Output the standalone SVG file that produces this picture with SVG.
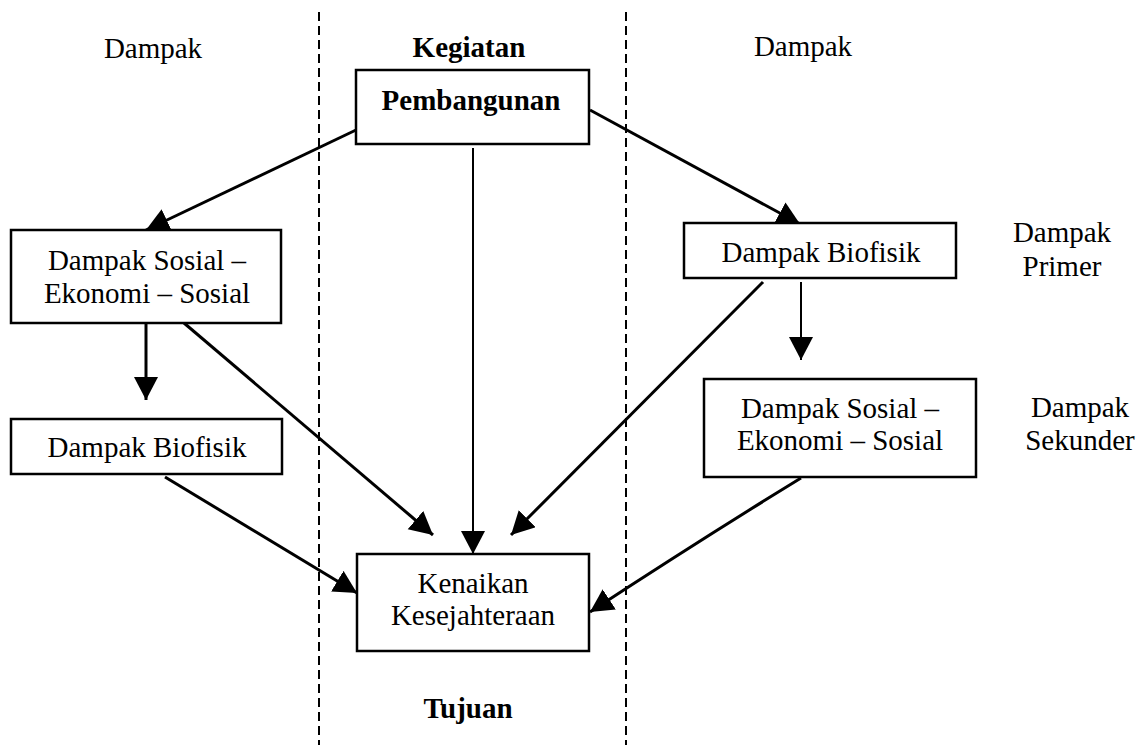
<svg xmlns="http://www.w3.org/2000/svg" width="1137" height="745" viewBox="0 0 1137 745">
<style>
text{font-family:"Liberation Serif","Times New Roman",serif;font-size:29px;fill:#000;text-anchor:middle}
.b{font-weight:bold}
.box{fill:#fff;stroke:#000;stroke-width:2.5}
.ln{stroke:#000;stroke-width:3;fill:none}
.thin{stroke:#000;stroke-width:2;fill:none}
.dash{stroke:#000;stroke-width:2;stroke-dasharray:9,5;fill:none}
</style>
<defs>
<marker id="ah" markerUnits="userSpaceOnUse" markerWidth="26" markerHeight="26" refX="23" refY="12" orient="auto">
<path d="M0,0 L23,12 L0,24 z" fill="#000"/>
</marker>
</defs>
<rect width="1137" height="745" fill="#fff"/>
<g id="dividers">
<line class="dash" x1="319" y1="12" x2="319" y2="745"/>
<line class="dash" x1="626" y1="12" x2="626" y2="745"/>
</g>
<g id="labels">
<text x="153" y="58">Dampak</text>
<text class="b" x="469" y="57">Kegiatan</text>
<text x="803" y="56">Dampak</text>
<text x="1062" y="242">Dampak</text>
<text x="1062" y="276">Primer</text>
<text x="1080" y="417">Dampak</text>
<text x="1080" y="450">Sekunder</text>
<text class="b" x="468" y="718">Tujuan</text>
</g>
<g id="connectors">
<line class="ln" x1="356" y1="130" x2="146" y2="230" marker-end="url(#ah)"/>
<line class="ln" x1="590" y1="110" x2="800" y2="224" marker-end="url(#ah)"/>
<line class="thin" x1="473" y1="148" x2="473" y2="554" marker-end="url(#ah)"/>
<line class="ln" x1="146" y1="323" x2="146" y2="400" marker-end="url(#ah)"/>
<line class="ln" x1="184" y1="323" x2="433" y2="535" marker-end="url(#ah)"/>
<line class="ln" x1="165" y1="477" x2="357" y2="593" marker-end="url(#ah)"/>
<line class="ln" x1="763" y1="282" x2="511" y2="535" marker-end="url(#ah)"/>
<line class="thin" x1="801" y1="282" x2="801" y2="360" marker-end="url(#ah)"/>
<path class="ln" d="M801,478 Q700,540 590,612" marker-end="url(#ah)"/>
</g>
<g id="pembangunan">
<rect class="box" x="356" y="70" width="233" height="74"/>
<text class="b" x="471" y="110">Pembangunan</text>
</g>
<g id="sosial-left">
<rect class="box" x="11" y="230" width="270" height="93"/>
<text x="147" y="270">Dampak Sosial –</text>
<text x="147" y="303">Ekonomi – Sosial</text>
</g>
<g id="biofisik-left">
<rect class="box" x="11" y="419" width="271" height="55"/>
<text x="147" y="457">Dampak Biofisik</text>
</g>
<g id="biofisik-right">
<rect class="box" x="684" y="223" width="272" height="55"/>
<text x="821" y="262">Dampak Biofisik</text>
</g>
<g id="sosial-right">
<rect class="box" x="704" y="379" width="272" height="98"/>
<text x="840" y="418">Dampak Sosial –</text>
<text x="840" y="450">Ekonomi – Sosial</text>
</g>
<g id="kenaikan">
<rect class="box" x="357" y="554" width="232" height="97"/>
<text x="473" y="593">Kenaikan</text>
<text x="473" y="625">Kesejahteraan</text>
</g>
</svg>
